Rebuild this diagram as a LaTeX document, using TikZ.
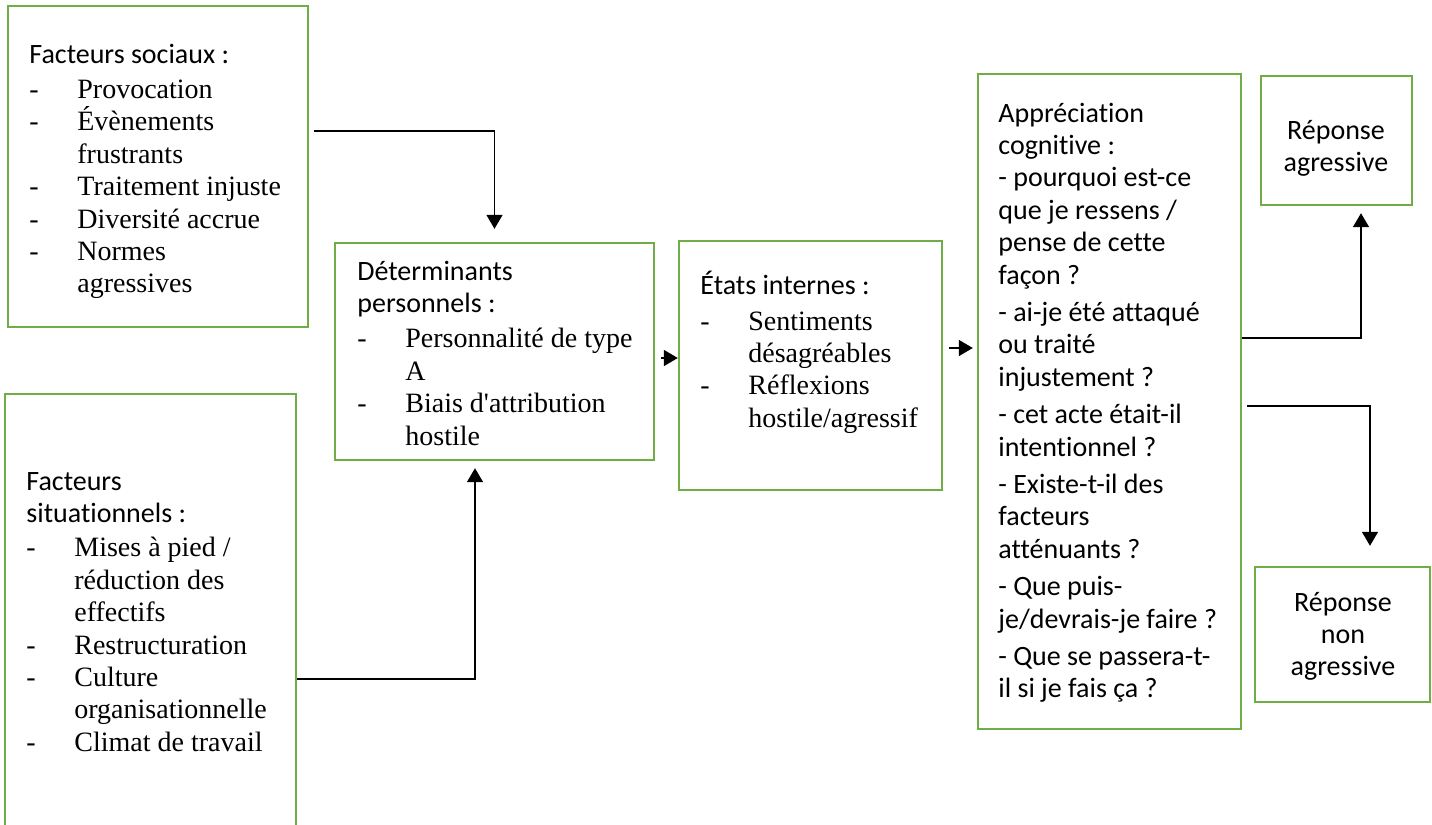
\documentclass[tikz,border=0pt]{standalone}
\usepackage{fontspec}
\setmainfont{Liberation Serif}
\setsansfont{Carlito}[Ligatures=NoCommon]
\usetikzlibrary{arrows.meta}
\usetikzlibrary{calc}
\usetikzlibrary{fit}

\definecolor{boxgreen}{HTML}{70AD47}
\newcommand{\calib}{\sffamily\fontsize{14}{16.2}\selectfont}
\newcommand{\tnr}{\rmfamily\fontsize{14}{16.2}\selectfont}
\newcommand{\itm}[1]{\makebox[24pt][l]{\tnr -}{\tnr #1}}
\newcommand{\cnt}[1]{\hspace*{24pt}{\tnr #1}}

\begin{document}
\begin{tikzpicture}[x=0.5pt, y=-0.5pt,
box/.style={draw=boxgreen, line width=1.2pt, inner sep=0pt},
txt/.style={anchor=north west, inner sep=0pt, align=left, font=\calib},
ctxt/.style={anchor=north, inner sep=0pt, align=center, font=\calib},
link/.style={line width=0.8pt, -{Triangle[width=8pt, length=7pt]}}]
\useasboundingbox (0,0) rectangle (1432,825);

% boxes
\node[box, fit={(8,6) (308,327)}] (social) {};
\node[box, fit={(5,394) (296,840)}] (sit) {};
\node[box, fit={(335,243) (654,460)}] (det) {};
\node[box, fit={(679,241) (942,490)}] (etats) {};
\node[box, fit={(978,74) (1241,729)}] (appr) {};
\node[box, fit={(1261,76) (1412,205)}] (agr) {};
\node[box, fit={(1255,567) (1430,702)}] (nonagr) {};

% texts
\node[txt] (socialtxt) at (29,40) {\strut Facteurs sociaux :\\[1.5pt]
	\itm{Provocation}\\ \itm{Évènements}\\ \cnt{frustrants}\\
	\itm{Traitement injuste}\\ \itm{Diversité accrue}\\
	\itm{Normes}\\ \cnt{agressives}};
\node[txt] (sittxt) at (26,467) {\strut Facteurs\\ situationnels :\\[1pt]
	\itm{Mises à pied /}\\ \cnt{réduction des}\\ \cnt{effectifs}\\
	\itm{Restructuration}\\ \itm{Culture}\\ \cnt{organisationnelle}\\
	\itm{Climat de travail}};
\node[txt] (dettxt) at (357,257) {\strut Déterminants\\ personnels :\\[1.5pt]
	\itm{Personnalité de type}\\ \cnt{A}\\
	\itm{Biais d\textquotesingle attribution}\\ \cnt{hostile}};
\node[txt] (etatstxt) at (700,271) {\strut États internes :\\[1.5pt]
	\itm{Sentiments}\\ \cnt{désagréables}\\
	\itm{Réflexions}\\ \cnt{hostile/agressif}};
\node[txt] (apprtxt) at (998,99) {\strut Appréciation\\ cognitive :\\
	- pourquoi est-ce\\ que je ressens /\\ pense de cette\\ façon ?\\[2.5pt]
	- ai-je été attaqué\\ ou traité\\ injustement ?\\[2.5pt]
	- cet acte était-il\\ intentionnel ?\\[2.5pt]
	- Existe-t-il des\\ facteurs\\ atténuants ?\\[2.5pt]
	- Que puis-\\ je/devrais-je faire ?\\[2.5pt]
	- Que se passera-t-\\ il si je fais ça ?};
\node[ctxt] (agrtxt) at (1336,116) {\strut Réponse\\ agressive};
\node[ctxt] (nonagrtxt) at (1343,588) {\strut Réponse\\ non\\ agressive};

% connectors
\draw[link] ($(social.east |- 0,131)+(5,0)$) -| ($(det.north)+(0,-13)$);
\draw[link] (sit.east |- 0,679) -| ($(det.south -| 475,0)+(0,7)$);
\draw[link] ($(det.east |- 0,358)+(6,0)$) -- (etats.west |- 0,358);
\draw[link] ($(etats.east |- 0,348)+(6,0)$) -- ($(appr.west |- 0,348)+(-4,0)$);
\draw[link] (appr.east |- 0,338) -| ($(agr.south -| 1361,0)+(0,7)$);
\draw[link] ($(appr.east |- 0,406)+(5,0)$) -| ($(nonagr.north -| 1370,0)+(0,-20)$);
\end{tikzpicture}
\end{document}
